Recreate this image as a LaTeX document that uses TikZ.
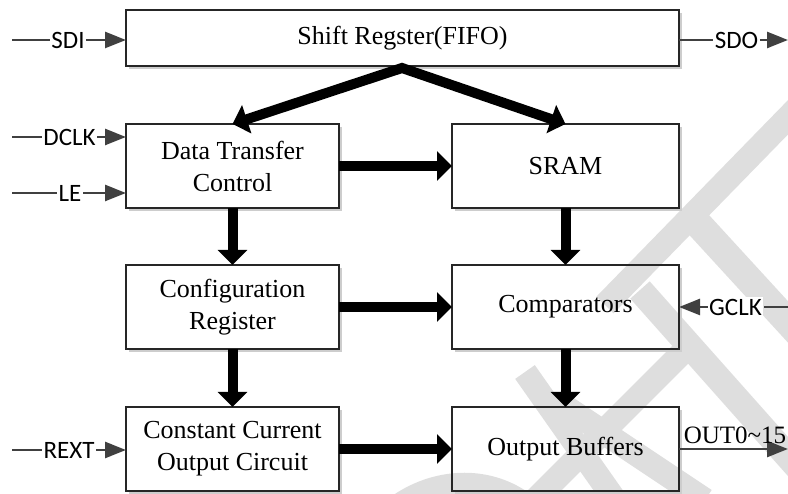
\documentclass[tikz,border=0pt]{standalone}
\usepackage{fontspec}
\setmainfont{Liberation Serif}
\newfontfamily\lblfont{Carlito}
\usetikzlibrary{arrows.meta,calc}
\definecolor{sig}{RGB}{64,64,64}
\definecolor{wm}{RGB}{222,222,222}
\definecolor{shad}{RGB}{205,205,205}
\tikzset{
  blk/.style={draw=black!85, line width=1.2pt, minimum width=213pt, minimum height=84pt,
    outer sep=0pt, inner sep=0pt, align=center, font=\fontsize{26}{32}\selectfont},
  wideblk/.style={blk, minimum width=227pt},
  bigarrow/.style={line width=10pt, -{Triangle[length=15pt,width=29pt]}},
  sigline/.style={draw=sig, line width=2.5pt},
  sigarrow/.style={sigline, -{Triangle[length=21pt,width=16pt]}},
  lbl/.style={font=\lblfont\fontsize{25}{30}\selectfont, inner sep=1.5pt, fill=white},
  wmark/.style={draw=wm, line width=24pt},
  shadline/.style={draw=shad, line width=1.6pt},
}
\begin{document}
\begin{tikzpicture}[x=1pt,y=-1pt]
\useasboundingbox (0,0) rectangle (788,494);
% watermark
\begin{scope}
\clip (0,0) rectangle (788,494);
\draw[wmark] (800,105) -- (605,305);
\draw[wmark, line width=28pt] (690,215) -- (800,335);
\draw[wmark, line width=26pt] (640,290) -- (800,470);
\draw[wmark] (690,345) -- (535,500);
\draw[wmark] (525,372) -- (615,500);
\draw[wmark] (555,400) -- (705,500);
\draw[wmark] (400,505) .. controls (440,478) and (490,478) .. (525,505);
\end{scope}
% boxes
\node[blk, minimum width=553pt, minimum height=56pt] (sr) at (402.5,38) {Shift Regster(FIFO)};
\node[blk] (dtc) at (232.5,166) {Data Transfer\\Control};
\node[wideblk] (sram) at (565.5,166) {SRAM};
\node[blk] (cfg) at (232.5,307) {Configuration\\Register};
\node[wideblk] (cmp) at (565.5,307) {Comparators};
\node[blk] (cco) at (232.5,449) {Constant Current\\Output Circuit};
\node[wideblk] (ob) at (565.5,449) {Output Buffers};
\foreach \n in {sr,dtc,sram,cfg,cmp,cco,ob}
  \draw[shadline] ($(\n.north east)+(2,3)$) -- ($(\n.south east)+(2,2)$) -- ($(\n.south west)+(3,2)$);
% thick arrows
\coordinate (apex) at (402,68);
\draw[line width=10pt, line join=miter, {Triangle[length=15pt,width=29pt]}-{Triangle[length=15pt,width=29pt]}]
  (dtc.north) -- (apex) -- (sram.north);
\draw[bigarrow] (dtc.east) -- (sram.west);
\draw[bigarrow] (cfg.east) -- (cmp.west);
\draw[bigarrow] (cco.east) -- (ob.west);
\draw[bigarrow] (dtc.south) -- (cfg.north);
\draw[bigarrow] (cfg.south) -- (cco.north);
\draw[bigarrow] (sram.south) -- (cmp.north);
\draw[bigarrow] (cmp.south) -- (ob.north);
% signals left
\node[lbl] (sdi) at (68,40) {SDI};
\coordinate (sdiS) at (12,40);
\draw[sigline] (sdiS) -- (sdi.west);
\draw[sigarrow] (sdi.east) -- (sdi.east -| sr.west);
\node[lbl] (dclk) at (69.5,137) {DCLK};
\coordinate (dclkS) at (12,137);
\draw[sigline] (dclkS) -- (dclk.west);
\draw[sigarrow] (dclk.east) -- (dclk.east -| dtc.west);
\node[lbl] (le) at (70,193) {LE};
\coordinate (leS) at (12,193);
\draw[sigline] (leS) -- (le.west);
\draw[sigarrow] (le.east) -- (le.east -| dtc.west);
\node[lbl] (rext) at (69,450) {REXT};
\coordinate (rextS) at (12,450);
\draw[sigline] (rextS) -- (rext.west);
\draw[sigarrow] (rext.east) -- (rext.east -| cco.west);
% signals right
\node[lbl] (sdo) at (736.5,40) {SDO};
\coordinate (sdoE) at (788,40);
\draw[sigline] (sdo.west -| sr.east) -- (sdo.west);
\draw[sigarrow] (sdo.east) -- (sdoE);
\node[lbl] (gclk) at (735.5,307) {GCLK};
\coordinate (gclkS) at (788,307);
\draw[sigline] (gclkS) -- (gclk.east);
\draw[sigarrow] (gclk.west) -- (gclk.west -| cmp.east);
\coordinate (outE) at (788,449);
\draw[sigarrow] (ob.east) -- (outE);
\node[font=\fontsize{25}{30}\selectfont, anchor=base, inner sep=0pt] (outl) at (735,444) {OUT0\textasciitilde15};
\end{tikzpicture}
\end{document}
